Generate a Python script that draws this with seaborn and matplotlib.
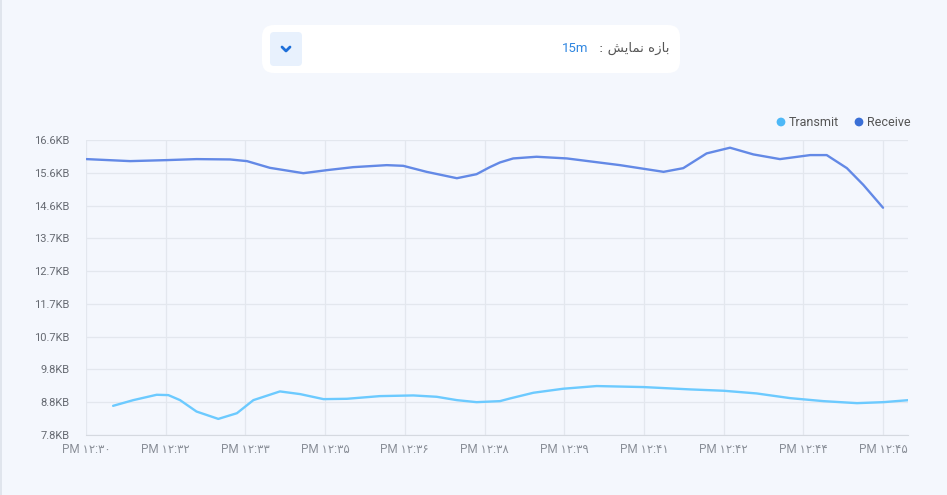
import numpy as np
import pandas as pd
import matplotlib
matplotlib.use('Agg')
import matplotlib.pyplot as plt
import seaborn as sns
from matplotlib.patches import FancyBboxPatch

# minutes after 12:30 and KB
rx_min = [0.01, 0.83, 1.52, 2.08, 2.71, 3.03, 3.46, 4.09, 4.53, 5.03, 5.66, 5.97,
          6.41, 6.98, 7.35, 7.60, 7.79, 8.04, 8.48, 9.05, 10.05, 10.87, 11.24,
          11.68, 12.12, 12.56, 13.06, 13.63, 13.94, 14.32, 14.63, 15.0]
rx_kb = [16.03, 15.97, 16.00, 16.03, 16.02, 15.97, 15.77, 15.61, 15.70, 15.79,
         15.85, 15.83, 15.65, 15.46, 15.58, 15.79, 15.93, 16.05, 16.10, 16.05,
         15.85, 15.65, 15.76, 16.20, 16.37, 16.17, 16.03, 16.15, 16.15, 15.76,
         15.26, 14.58]

tx_min = [0.51, 0.89, 1.33, 1.55, 1.77, 2.08, 2.49, 2.84, 3.15, 3.65, 4.03,
          4.47, 4.91, 5.53, 6.16, 6.60, 6.98, 7.35, 7.79, 7.98, 8.42, 8.98,
          9.61, 10.49, 11.37, 12.0, 12.62, 13.25, 13.88, 14.51, 15.01, 15.48]
tx_kb = [8.67, 8.84, 9.00, 8.99, 8.84, 8.50, 8.28, 8.45, 8.84, 9.10, 9.02,
         8.87, 8.88, 8.96, 8.98, 8.94, 8.84, 8.78, 8.81, 8.89, 9.06, 9.18,
         9.26, 9.23, 9.16, 9.12, 9.04, 8.90, 8.81, 8.75, 8.78, 8.84]

y_labels = ['7.8KB', '8.8KB', '9.8KB', '10.7KB', '11.7KB', '12.7KB', '13.7KB',
            '14.6KB', '15.6KB', '16.6KB']
x_labels = ['12:30', '12:32', '12:33', '12:35', '12:36', '12:38', '12:39',
            '12:41', '12:42', '12:44', '12:45']

fa = str.maketrans('0123456789', '۰۱۲۳۴۵۶۷۸۹')

df = pd.concat([
    pd.DataFrame({'t': tx_min, 'kb': tx_kb, 'series': 'Transmit'}),
    pd.DataFrame({'t': rx_min, 'kb': rx_kb, 'series': 'Receive'}),
])

bg = '#f4f7fd'
sns.set_style('whitegrid')
plt.rcParams['font.family'] = ['Roboto', 'DejaVu Sans']

fig = plt.figure(figsize=(9.47, 4.95), dpi=100, facecolor=bg)

# decorations in pixel coords
deco = fig.add_axes([0, 0, 1, 1])
deco.set_xlim(0, 947)
deco.set_ylim(495, 0)
deco.axis('off')
deco.add_patch(FancyBboxPatch((262, 25), 418, 48, boxstyle='round,pad=0,rounding_size=12',
                              fc='white', ec='none'))
deco.add_patch(FancyBboxPatch((270, 32), 32, 34, boxstyle='round,pad=0,rounding_size=4',
                              fc='#e8f1fd', ec='none'))
deco.plot([282, 286, 290], [47, 51, 47], color='#1e6fd9', lw=2, solid_capstyle='round')
deco.text(588, 48, '15m', color='#2f86e0', fontsize=9.5, ha='right', va='center')
deco.text(599, 48, ': ' + 'ﺶﯾﺎﻤﻧ ﻩﺯﺎﺑ', color='#555', fontsize=9.5, ha='left', va='center',
          family=['DejaVu Sans'])
deco.plot([0.5, 0.5], [0, 495], color='#dde2ea', lw=1.2)
# legend
deco.scatter([781, 859], [122, 122], s=28, color=['#4db8f7', '#3a6fd6'])
deco.text(789, 122, 'Transmit', color='#555', fontsize=9, va='center')
deco.text(867, 122, 'Receive', color='#555', fontsize=9, va='center')

ax = fig.add_axes([86 / 947, 1 - 435 / 495, (908 - 86) / 947, (435 - 140) / 495])
ax.set_facecolor('none')
sns.lineplot(data=df, x='t', y='kb', hue='series', sort=False, ax=ax,
             palette={'Transmit': '#6ccaff', 'Receive': '#6389e6'},
             linewidth=1.7, legend=False, solid_joinstyle='round')
ax.set_xlim(0, 15.47)
ax.set_ylim(7.8, 16.6)
ax.set_yticks(np.linspace(7.8, 16.6, len(y_labels)))
ax.set_yticklabels(y_labels)
ax.set_xticks(np.arange(len(x_labels)) * 1.5)
ax.set_xticklabels(['PM ' + s.translate(fa) for s in x_labels])
ax.grid(True, color='#e3e7ee', lw=0.9)
for s in ['top', 'right', 'left']:
    ax.spines[s].set_visible(False)
ax.spines['bottom'].set_color('#d5d9e0')
ax.tick_params(axis='x', length=4, color='#d5d9e0', labelsize=8.5, labelcolor='#8a8f98', pad=2)
ax.tick_params(axis='y', length=0, labelsize=8, labelcolor='#666a72', pad=12)
ax.set_xlabel('')
ax.set_ylabel('')

fig.savefig('out.png', dpi=100, facecolor=bg)
